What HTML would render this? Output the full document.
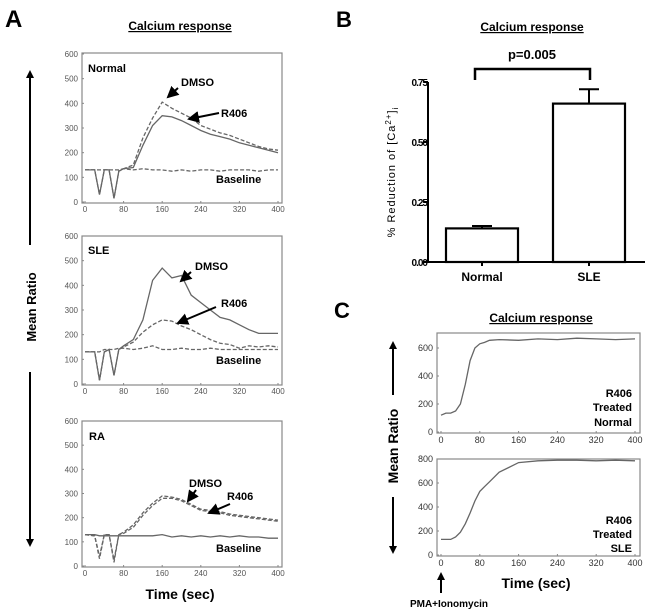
<!DOCTYPE html>
<html><head><meta charset="utf-8"><style>
body{margin:0;background:#fff;width:649px;height:613px;overflow:hidden}
svg{display:block;font-family:"Liberation Sans",Arial,sans-serif}
.b{font-weight:bold}
</style></head><body>
<svg id="fig" width="649" height="613" viewBox="0 0 649 613">
<defs><marker id="ah" markerWidth="6" markerHeight="6" refX="5" refY="3" orient="auto"><path d="M0,0L6,3L0,6z" fill="#000"/></marker>
<marker id="ahb" markerWidth="4" markerHeight="4" refX="3" refY="2" orient="auto"><path d="M0,0L4,2L0,4z" fill="#000"/></marker></defs>
<text x="5" y="27" font-size="24" class="b">A</text>
<text x="180" y="30" font-size="12" class="b" text-anchor="middle" text-decoration="underline">Calcium response</text>
<text x="336" y="27" font-size="22" class="b">B</text>
<text x="532" y="31" font-size="12" class="b" text-anchor="middle" text-decoration="underline">Calcium response</text>
<text x="334" y="318" font-size="22" class="b">C</text>
<text x="541" y="322" font-size="12" class="b" text-anchor="middle" text-decoration="underline">Calcium response</text>
<line x1="30" y1="245" x2="30" y2="72" stroke="#000" stroke-width="2" marker-end="url(#ahb)"/>
<line x1="30" y1="372" x2="30" y2="545" stroke="#000" stroke-width="2" marker-end="url(#ahb)"/>
<text transform="translate(36,307) rotate(-90)" font-size="13" class="b" text-anchor="middle">Mean Ratio</text>
<text x="180" y="599" font-size="14" class="b" text-anchor="middle">Time (sec)</text>
<line x1="393" y1="395" x2="393" y2="343" stroke="#000" stroke-width="2" marker-end="url(#ahb)"/>
<line x1="393" y1="497" x2="393" y2="552" stroke="#000" stroke-width="2" marker-end="url(#ahb)"/>
<text transform="translate(398,446) rotate(-90)" font-size="14" class="b" text-anchor="middle">Mean Ratio</text>
<text x="536" y="588" font-size="14" class="b" text-anchor="middle">Time (sec)</text>
<line x1="441" y1="593" x2="441" y2="574" stroke="#000" stroke-width="2" marker-end="url(#ahb)"/>
<text x="449" y="607" font-size="10" class="b" text-anchor="middle">PMA+Ionomycin</text>
</svg>
<script>
const tA=[0,20,30,40,50,60,70,80,100,120,140,160,180,200,220,240,260,280,300,320,340,360,380,400];
const normDMSO=[130,130,30,130,130,15,125,135,150,260,340,405,380,360,340,310,295,280,270,255,240,225,215,210];
const normR406=[130,130,30,130,130,15,125,135,140,230,310,350,345,330,310,290,275,265,255,240,230,220,210,200];
const normBase=[130,130,130,130,130,130,130,135,130,135,130,130,125,130,125,130,130,125,130,130,130,125,130,130];
const sleDMSO=[130,130,15,130,140,35,140,155,180,260,420,470,430,440,360,330,300,270,260,240,220,205,205,205];
const sleR406=[130,130,15,130,140,35,140,150,170,210,240,260,255,235,220,200,180,165,160,145,155,150,155,150];
const sleBase=[130,130,130,140,140,140,145,145,140,145,155,140,140,145,140,140,145,140,140,140,140,140,140,140];
const raDMSO=[130,125,30,130,130,15,130,140,170,220,260,290,285,275,255,235,230,225,215,210,205,200,195,190];
const raR406=[130,125,40,130,130,25,130,135,160,210,250,280,280,270,250,230,225,220,210,205,200,195,190,185];
const raBase=[130,130,125,125,125,125,125,125,125,125,125,130,120,125,120,125,120,125,120,125,120,120,115,115];
const tC=[0,10,20,30,40,50,60,70,80,90,100,120,160,200,240,280,320,360,400];
const cNormal=[120,135,135,150,200,340,510,600,630,640,655,660,655,665,660,670,665,660,665];
const cSLE=[130,130,130,150,190,260,350,450,530,570,610,690,770,785,790,790,785,790,785];
const aYTicks=[0,100,200,300,400,500,600];
const xTicks=[0,80,160,240,320,400];
const bCats=["Normal","SLE"];
const bVals=[0.14,0.66];
const bErr=[0.01,0.06];
const bTicks=[0,0.25,0.5,0.75];
const bTickLabels=["0.00","0.25","0.50","0.75"];
const cTopTicks=[0,200,400,600];
const cBotTicks=[0,200,400,600,800];

const NS="http://www.w3.org/2000/svg";
const svg=document.getElementById('fig');
function mk(tag,at,parent){const e=document.createElementNS(NS,tag);for(const k in at)e.setAttribute(k,at[k]);(parent||svg).appendChild(e);return e;}

function linePanel(o){
  const g=mk('g',{});
  
  
  const xs=v=>o.x0+(v-0)/400*(o.x1-o.x0);
  const ys=v=>o.y0-(v/o.ymax)*(o.y0-o.y1);
  const box=mk('rect',{x:o.bx0,y:o.by0,width:o.bx1-o.bx0,height:o.by1-o.by0,fill:'none',stroke:'#888','stroke-width':1.2},g);
  
  
  o.yt.forEach(v=>{
    const t=mk('text',{x:o.bx0-4,y:ys(v)+3,'font-size':o.tfs,'text-anchor':'end',fill:o.tcol},g);t.textContent=v;
    
    
    mk('line',{x1:o.bx0,x2:o.bx0+2,y1:ys(v),y2:ys(v),stroke:'#888'},g);
  });
  xTicks.forEach(v=>{
    const t=mk('text',{x:xs(v),y:o.by1+o.tdy,'font-size':o.tfs,'text-anchor':'middle',fill:o.tcol},g);t.textContent=v;
    
    
    mk('line',{x1:xs(v),x2:xs(v),y1:o.by1,y2:o.by1-2,stroke:'#888'},g);
  });
  o.series.forEach(s=>{
    const d=s.v.map((v,i)=>(i?'L':'M')+xs(s.t[i]).toFixed(1)+','+ys(v).toFixed(1)).join('');
    const p=mk('path',{d:d,fill:'none',stroke:'#666','stroke-width':1.3,'stroke-dasharray':s.dash?'4,2':'none'},g);
    
    
  });
}
const sA=(t,v,n,d)=>({t:t,v:v,name:n,dash:d});
const aBase={x0:85,x1:278,bx0:82,bx1:282,yt:aYTicks,ymax:600,tfs:8,tcol:'#555',tdy:9};
linePanel(Object.assign({},aBase,{name:'normal-panel',y0:202,y1:54,by0:53,by1:203,series:[sA(tA,normBase,'normal-baseline-line',1),sA(tA,normDMSO,'normal-dmso-line',1),sA(tA,normR406,'normal-r406-line',0)]}));
linePanel(Object.assign({},aBase,{name:'sle-panel',y0:384,y1:236,by0:236,by1:385,series:[sA(tA,sleBase,'sle-baseline-line',1),sA(tA,sleDMSO,'sle-dmso-line',0),sA(tA,sleR406,'sle-r406-line',1)]}));
linePanel(Object.assign({},aBase,{name:'ra-panel',y0:566,y1:421,by0:421,by1:567,series:[sA(tA,raBase,'ra-baseline-line',0),sA(tA,raDMSO,'ra-dmso-line',1),sA(tA,raR406,'ra-r406-line',1)]}));
const cBase={x0:441,x1:635,bx0:437,bx1:640,tfs:9,tcol:'#333',tdy:10};
linePanel(Object.assign({},cBase,{name:'c-normal-panel',yt:cTopTicks,ymax:600,y0:432,y1:348,by0:333,by1:433,series:[sA(tC,cNormal,'c-normal-line',0)]}));
linePanel(Object.assign({},cBase,{name:'c-sle-panel',yt:cBotTicks,ymax:800,y0:555,y1:459,by0:459,by1:556,series:[sA(tC,cSLE,'c-sle-line',0)]}));

function lbl(x,y,txt,name,anchor,fs){const t=mk('text',{x:x,y:y,'font-size':fs||11,'font-weight':'bold','text-anchor':anchor||'start'});t.textContent=txt;
  
  return t;}
function arr(x1,y1,x2,y2,name){const l=mk('line',{x1:x1,y1:y1,x2:x2,y2:y2,stroke:'#000','stroke-width':2,'marker-end':'url(#ah)'});
  
  }
lbl(88,72,'Normal','normal-label');lbl(181,86,'DMSO','normal-dmso-label');arr(178,88,168,97,'normal-dmso-arrow');
lbl(221,117,'R406','normal-r406-label');arr(219,113,189,119,'normal-r406-arrow');lbl(216,183,'Baseline','normal-baseline-label');
lbl(88,254,'SLE','sle-label');lbl(195,270,'DMSO','sle-dmso-label');arr(191,272,181,281,'sle-dmso-arrow');
lbl(221,307,'R406','sle-r406-label');arr(216,307,178,323,'sle-r406-arrow');lbl(216,364,'Baseline','sle-baseline-label');
lbl(89,440,'RA','ra-label');lbl(189,487,'DMSO','ra-dmso-label');arr(196,490,188,501,'ra-dmso-arrow');
lbl(227,500,'R406','ra-r406-label');arr(230,504,209,513,'ra-r406-arrow');lbl(216,552,'Baseline','ra-baseline-label');
lbl(632,397,'R406','c-normal-r406','end');lbl(632,411,'Treated','c-normal-treated','end');lbl(632,426,'Normal','c-normal-normal','end');
lbl(632,524,'R406','c-sle-r406','end');lbl(632,538,'Treated','c-sle-treated','end');lbl(632,552,'SLE','c-sle-sle','end');

// bar chart B
const by0=262,by1=82,bxL=428,bxR=645;
const bys=v=>by0-v/0.75*(by0-by1);
const bCenters=[482,589],bW=72;
const bg=mk('g',{});


mk('line',{x1:bxL,y1:by1,x2:bxL,y2:by0,stroke:'#000','stroke-width':2},bg);
mk('line',{x1:bxL,y1:by0,x2:bxR,y2:by0,stroke:'#000','stroke-width':2},bg);
bTicks.forEach((v,i)=>{mk('line',{x1:bxL-4,x2:bxL,y1:bys(v),y2:bys(v),stroke:'#000','stroke-width':2},bg);
  const t=mk('text',{x:bxL-1,y:bys(v)+4,'font-size':10,'font-weight':'bold','text-anchor':'end','letter-spacing':'-1'},bg);t.textContent=bTickLabels[i];
  
  });
bCats.forEach((c,i)=>{const cx=bCenters[i];
  const r=mk('rect',{x:cx-bW/2,y:bys(bVals[i]),width:bW,height:by0-bys(bVals[i]),fill:'#fff',stroke:'#000','stroke-width':2.2},bg);
  
  
  const e=bVals[i]+bErr[i];
  mk('line',{x1:cx,x2:cx,y1:bys(bVals[i]),y2:bys(e),stroke:'#000','stroke-width':2},bg);
  const cap=mk('line',{x1:cx-10,x2:cx+10,y1:bys(e),y2:bys(e),stroke:'#000','stroke-width':2},bg);
  
  
  mk('line',{x1:cx,x2:cx,y1:by0,y2:by0+4,stroke:'#000','stroke-width':2},bg);
  const t=mk('text',{x:cx,y:281,'font-size':12,'font-weight':'bold','text-anchor':'middle'},bg);t.textContent=c;
  
  });
const br=mk('path',{d:'M475,80V69H590V80',fill:'none',stroke:'#000','stroke-width':2.5});


lbl(532,59,'p=0.005','p-value-label','middle',13);
const yt=mk('text',{transform:'translate(395,172) rotate(-90)','font-size':11,'text-anchor':'middle','letter-spacing':'1'});
yt.innerHTML='% Reduction of [Ca<tspan dy="-4" font-size="8">2+</tspan><tspan dy="4">]</tspan><tspan dy="3" font-size="8">i</tspan>';


</script>
</body></html>
